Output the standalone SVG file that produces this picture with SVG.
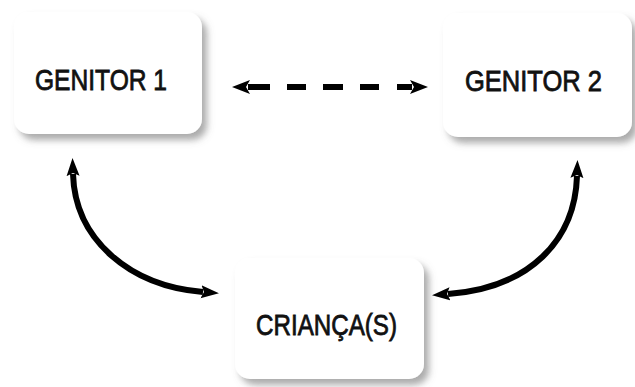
<svg xmlns="http://www.w3.org/2000/svg" width="635" height="387" viewBox="0 0 635 387">
  <style>
    .box { fill: #ffffff; filter: url(#shadow); }
    .label { font-family: "Liberation Sans", Arial, sans-serif; font-size: 29px; fill: #111111; stroke: #111111; stroke-width: 0.8; text-anchor: start; }
    .conn { fill: none; stroke: #000000; }
  </style>
  <defs>
    <filter id="shadow" x="-20%" y="-20%" width="140%" height="140%">
      <feDropShadow dx="5" dy="6" stdDeviation="3.5" flood-color="#666666" flood-opacity="0.55"/>
    </filter>
    <marker id="headBig" viewBox="0 0 18 16" refX="2" refY="8" markerWidth="18" markerHeight="16" markerUnits="userSpaceOnUse" orient="auto-start-reverse">
      <path d="M0,1 L18,8 L0,15 L4,8 Z" fill="#000000"/>
    </marker>
    <marker id="headSmall" viewBox="0 0 18 14" refX="2" refY="7" markerWidth="18" markerHeight="14" markerUnits="userSpaceOnUse" orient="auto-start-reverse">
      <path d="M0,0.5 L18,7 L0,13.5 L3,7 Z" fill="#000000"/>
    </marker>
  </defs>

  <g id="genitor1">
    <rect class="box" x="14" y="12" width="188" height="122" rx="15" ry="15"/>
    <text class="label" x="35" y="90" textLength="132" lengthAdjust="spacingAndGlyphs">GENITOR 1</text>
  </g>

  <g id="genitor2">
    <rect class="box" x="443" y="13" width="189" height="124" rx="15" ry="15"/>
    <text class="label" x="465" y="91" textLength="137" lengthAdjust="spacingAndGlyphs">GENITOR 2</text>
  </g>

  <g id="criancas">
    <rect class="box" x="235" y="258" width="189" height="121" rx="15" ry="15"/>
    <text class="label" x="256" y="335" textLength="141" lengthAdjust="spacingAndGlyphs">CRIANÇA(S)</text>
  </g>

  <g id="connectors">
    <path class="conn" d="M248,87 L412,87" stroke-width="6" stroke-dasharray="22 17 19 17 20 17 19 18 15" marker-start="url(#headBig)" marker-end="url(#headBig)"/>
    <path class="conn" d="M73,174 C75,240 130,286 203,292" stroke-width="6" marker-start="url(#headSmall)" marker-end="url(#headSmall)"/>
    <path class="conn" d="M577,176 C575,240 530,288 448,294" stroke-width="6" marker-start="url(#headSmall)" marker-end="url(#headSmall)"/>
  </g>
</svg>
